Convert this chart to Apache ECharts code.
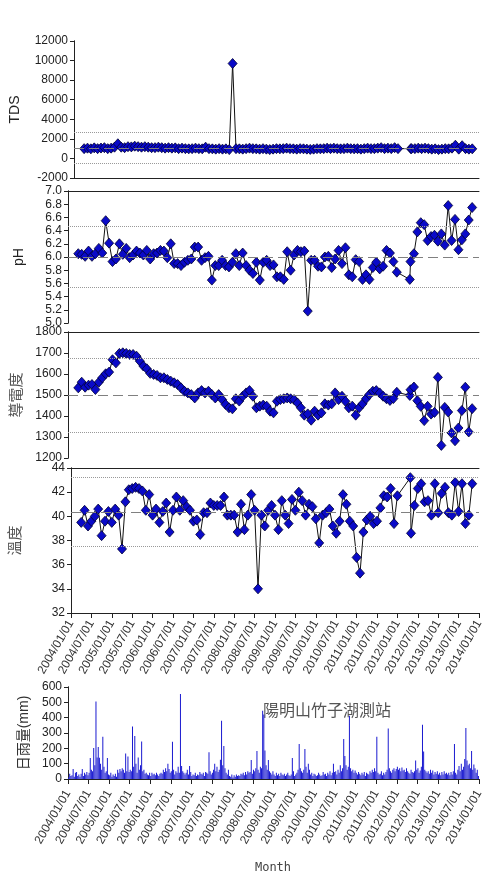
<!DOCTYPE html>
<html>
<head>
<meta charset="utf-8">
<script src="https://cdn.jsdelivr.net/npm/echarts@6.0.0/dist/echarts.min.js"></script>
<style>
html,body{margin:0;padding:0;background:#fff}
#grafico{width:487px;height:874px}
</style>
</head>
<body>
<div id="grafico"></div>
<script>
// fechas de muestreo, en meses desde 2004/01/01
const sampleMonths = [3,4,5,6,7,8,9,10,11,12,13,14,15,16,17,18,19,20,21,22,23,24,25,26,27,28,29,30,31,32,
  33,34,35,36,37,38,39,40,41,42,43,44,45,46,47,48,49,50,51,52,53,54,55,56,57,58,59,60,61,62,
  63,64,65,66,67,68,69,70,71,72,73,74,75,76,77,78,79,80,81,82,83,84,85,86,87,88,89,90,91,92,
  93,94,95,96,99.8,100,101,102,103,104,105,106,107,108,109,110,111,112,113,114,115,116,117,118]

const tdsValues = [1000,1050,980,1080,1000,1060,1100,1000,1050,1150,
  1500,1150,1100,1200,1180,1250,1200,1150,1200,1150,
  1100,1100,1150,1100,1050,1100,1050,1080,1000,1050,
  1000,980,1000,1050,1000,980,1150,1000,980,950,
  1000,950,980,900,9700,1000,980,950,1000,1050,
  1000,980,950,1000,950,900,950,1000,980,1000,
  1050,1000,980,950,1000,980,950,920,950,1000,
  980,1000,1050,1000,1050,1000,980,1000,1050,1000,
  980,1000,950,1000,1050,1000,1000,1050,1100,1000,
  1050,1000,1100,1000,
  1000,1000,
  1000,1050,1000,1050,1000,950,980,900,950,1000,980,1050,1350,950,1300,1000,950,980]

const phValues = [6.05,6.04,6.01,6.09,6.01,6.05,6.13,6.06,6.55,6.21,
  5.93,5.97,6.20,6.04,6.13,5.99,6.03,6.09,6.06,6.03,
  6.10,5.97,6.05,6.06,6.10,6.09,5.99,6.20,5.90,5.90,
  5.87,5.92,5.95,5.97,6.15,6.15,5.95,5.99,6.01,5.65,
  5.87,5.87,5.95,5.87,5.85,5.92,6.05,5.87,6.06,5.87,
  5.80,5.75,5.92,5.65,5.92,5.95,5.87,5.88,5.70,5.70,
  5.66,6.08,5.80,6.03,6.10,6.08,6.09,5.18,5.95,5.95,
  5.86,5.85,6.00,6.01,5.84,5.97,6.10,5.90,6.14,5.73,
  5.70,5.96,5.93,5.66,5.73,5.66,5.84,5.92,5.82,5.86,
  6.10,6.06,5.93,5.77,
  5.66,5.93,
  6.05,6.38,6.52,6.49,6.25,6.31,6.33,6.24,6.35,6.18,6.78,6.25,6.57,6.11,6.26,6.35,6.56,6.75]

const condValues = [1534,1561,1537,1547,1550,1526,1561,1582,1601,1609,
  1668,1653,1698,1701,1698,1693,1693,1685,1661,1638,
  1625,1603,1598,1593,1582,1582,1574,1566,1558,1550,
  1534,1518,1510,1502,1486,1510,1521,1510,1518,1502,
  1486,1502,1478,1455,1439,1434,1482,1471,1494,1510,
  1521,1494,1439,1447,1452,1447,1423,1415,
  1470,1478,1482,1486,1482,1478,1462,1439,1404,1410,
  1380,1423,1404,1415,1458,1452,1458,1510,1478,1494,
  1470,1439,1447,1404,1439,1458,1482,1502,1518,1521,
  1510,1494,1482,1474,1483,1513,
  1498,1525,
  1538,1473,1446,1378,1446,1409,1417,1584,1260,1441,1419,1319,1282,1343,1426,1537,1324,1435]

const tempValues = [39.5,40.5,39.2,39.6,40.0,40.6,38.4,39.6,40.4,39.5,
  40.6,40.1,37.3,41.2,42.2,42.3,42.4,42.3,42.1,40.5,
  41.8,40.1,40.6,39.5,40.4,41.1,38.7,40.5,41.6,40.5,
  41.3,40.8,40.5,39.6,39.7,38.5,40.3,40.3,41.1,40.9,
  40.9,40.9,41.6,40.1,40.1,40.1,38.7,41.0,38.9,40.1,
  41.8,40.5,34.0,40.1,39.2,40.5,40.9,40.1,38.9,
  41.3,40.1,39.4,41.4,40.5,42.0,41.3,40.1,41.0,40.8,
  39.8,37.8,40.1,40.3,40.6,39.2,38.6,39.6,41.8,41.0,
  39.6,39.2,36.6,35.3,38.7,39.7,40.0,39.4,39.6,40.7,
  41.7,41.6,42.3,39.4,41.7,
  43.2,38.6,
  40.9,42.3,42.7,41.2,41.3,40.1,42.7,40.3,41.9,42.4,40.3,40.1,42.8,40.4,42.7,39.4,40.1,42.7]

// lineas de referencia: limite superior, promedio, limite inferior
const tdsLimits = [2700, 1070, -500]
const phLimits = [6.47, 6.0, 5.54]
const condLimits = [1673, 1497, 1322]
const tempLimits = [43.2, 40.35, 37.55]

// lluvia diaria maxima por decada (3 por mes), 2004/01 - 2013/12
const rainDekads = [
  10,35,20, 25,65,15, 40,45,20, 30,15,35, 65,20,40, 30,45,25, 40,137,60, 50,202,90, 506,140,209, 139,100,60, 276,80,40, 50,137,30,
  25,40,15, 30,20,35, 15,60,40, 65,50,70, 60,40,167, 50,146,45, 60,50,343, 80,280,100, 40,140,60, 90,245,50, 60,35,40, 30,25,40,
  20,40,30, 35,25,40, 30,20,35, 40,35,60, 45,70,50, 100,65,40, 50,243,60, 30,50,40, 80,40,554, 85,50,40, 30,40,60, 30,85,45,
  20,30,25, 40,20,30, 25,45,35, 30,40,20, 45,40,35, 174,50,30, 40,60,100, 50,80,45, 60,125,380, 90,215,70, 40,30,60, 20,15,30,
  10,25,15, 30,20,25, 20,35,30, 40,25,45, 30,50,40, 45,124,35, 60,50,70, 182,60,40, 80,70,445, 420,186,90, 60,124,50, 40,30,50,
  30,20,40, 25,35,20, 40,30,25, 35,20,30, 40,25,20, 30,137,50, 20,30,40, 60,228,70, 50,40,60, 195,80,40, 100,60,30, 40,20,35,
  30,20,25, 40,30,20, 25,45,30, 35,20,40, 30,50,25, 40,100,45, 50,30,60, 40,90,50, 70,261,150, 90,60,80, 413,70,50, 60,40,55,
  40,30,45, 35,25,40, 30,45,20, 40,35,30, 50,40,60, 45,70,50, 276,40,30, 35,50,25, 40,30,45, 60,330,70, 50,40,60, 70,50,65,
  80,60,70, 50,75,55, 60,45,70, 50,40,35, 60,45,40, 50,120,60, 70,40,55, 80,354,180, 60,50,40, 50,35,60, 40,55,30, 45,35,50,
  30,40,25, 45,30,50, 35,40,30, 40,25,45, 30,50,228, 40,30,60, 85,50,100, 60,80,130, 332,120,90, 100,70,182, 60,95,70, 40,60,20]

const tickLabels = ['2004/01/01','2004/07/01','2005/01/01','2005/07/01','2006/01/01','2006/07/01','2007/01/01',
  '2007/07/01','2008/01/01','2008/07/01','2009/01/01','2009/07/01','2010/01/01','2010/07/01','2011/01/01',
  '2011/07/01','2012/01/01','2012/07/01','2013/01/01','2013/07/01','2014/01/01']

let chartDom = document.getElementById('grafico')
let myChart = echarts.init(chartDom, null, { renderer: 'canvas' })

let paneles = [
  { top: 41, height: 137, min: -2000, max: 12000, interval: 2000, name: 'TDS', gap: 52, nameSize: 14, nameColor: '#222', values: tdsValues, limits: tdsLimits, labels: false },
  { top: 191, height: 132, min: 5, max: 7, interval: 0.2, name: 'pH', gap: 42, nameSize: 14, nameColor: '#222', values: phValues, limits: phLimits, labels: false, dec: 1 },
  { top: 332, height: 126, min: 1200, max: 1800, interval: 100, name: '導電度', gap: 44, nameSize: 15, nameColor: '#555', values: condValues, limits: condLimits, labels: false },
  { top: 468, height: 145, min: 32, max: 44, interval: 2, name: '溫度', gap: 48, nameSize: 15, nameColor: '#555', values: tempValues, limits: tempLimits, labels: true, margin: 8 },
  { top: 687, height: 92, min: 0, max: 600, interval: 100, name: '日雨量(mm)', gap: 34, nameSize: 14, nameColor: '#333', labels: true, margin: 12 }
]

let grid = [], xAxis = [], yAxis = [], series = []
let etiquetaX = function (v) { return tickLabels[Math.round(v / 6)] }

paneles.forEach(function (p, k) {
  grid.push({ left: 68, right: 8, top: p.top, height: p.height })
  xAxis.push({
    type: 'value', gridIndex: k, min: 0, max: 120, interval: 6,
    axisLine: { show: p.labels, lineStyle: { color: '#222' } },
    axisTick: { show: p.labels, length: 5, lineStyle: { color: '#222' } },
    axisLabel: { show: p.labels, rotate: 60, fontSize: 12, color: '#333', margin: p.margin || 8, formatter: etiquetaX },
    splitLine: { show: false }
  })
  // borde superior
  xAxis.push({
    type: 'value', gridIndex: k, position: 'top', min: 0, max: 1,
    axisLine: { show: true, lineStyle: { color: '#222' } },
    axisTick: { show: false }, axisLabel: { show: false }, splitLine: { show: false }
  })
  yAxis.push({
    type: 'value', gridIndex: k, min: p.min, max: p.max, interval: p.interval,
    name: p.name, nameLocation: 'middle', nameGap: p.gap,
    nameTextStyle: { fontSize: p.nameSize, color: p.nameColor, fontFamily: 'Liberation Sans, Noto Sans CJK TC' },
    axisLine: { show: true, lineStyle: { color: '#222' } },
    axisTick: { show: true, length: 4, lineStyle: { color: '#222' } },
    axisLabel: {
      fontSize: 12, color: '#222', margin: 6,
      formatter: function (v) { return p.dec ? v.toFixed(p.dec) : String(Math.round(v)) }
    },
    splitLine: { show: false }
  })
  // borde derecho
  yAxis.push({
    type: 'value', gridIndex: k, position: 'right', min: 0, max: 1,
    axisLine: { show: true, lineStyle: { color: '#222' } },
    axisTick: { show: false }, axisLabel: { show: false }, splitLine: { show: false }
  })

  if (p.values) {
    series.push({
      type: 'line', xAxisIndex: 2 * k, yAxisIndex: 2 * k, data: [], z: 1, silent: true,
      markLine: {
        silent: true, symbol: 'none', label: { show: false }, animation: false,
        data: [
          { yAxis: p.limits[0], lineStyle: { color: '#999', type: 'dotted', width: 1 } },
          { yAxis: p.limits[1], lineStyle: { color: '#808080', type: [10, 5], width: 1.2 } },
          { yAxis: p.limits[2], lineStyle: { color: '#999', type: 'dotted', width: 1 } }
        ]
      }
    })
    series.push({
      type: 'line', xAxisIndex: 2 * k, yAxisIndex: 2 * k, z: 3,
      data: sampleMonths.map(function (m, i) { return [m, p.values[i]] }),
      symbol: 'diamond', symbolSize: [9, 10],
      lineStyle: { color: '#111', width: 1 },
      itemStyle: { color: '#0a0ac8', borderColor: '#000033', borderWidth: 0.8 }
    })
  }
})

series.push({
  type: 'bar', xAxisIndex: 8, yAxisIndex: 8, barWidth: 1,
  data: rainDekads.map(function (v, i) { return [(i + 0.5) / 3, v] }),
  itemStyle: { color: '#1a1ad0' }
})

var option = {
  animation: false,
  textStyle: { fontFamily: 'Liberation Sans, Noto Sans CJK TC' },
  grid: grid,
  xAxis: xAxis,
  yAxis: yAxis,
  series: series,
  graphic: [
    { type: 'text', x: 263, y: 702, style: { text: '陽明山竹子湖測站', font: '16px "Noto Sans CJK TC"', fill: '#555' } },
    { type: 'text', x: 273, y: 868, style: { text: 'Month', font: '12px "DejaVu Sans Mono"', fill: '#444', textAlign: 'center', textVerticalAlign: 'middle' } }
  ]
}

myChart.setOption(option)
window.addEventListener('resize', myChart.resize)
</script>
</body>
</html>
